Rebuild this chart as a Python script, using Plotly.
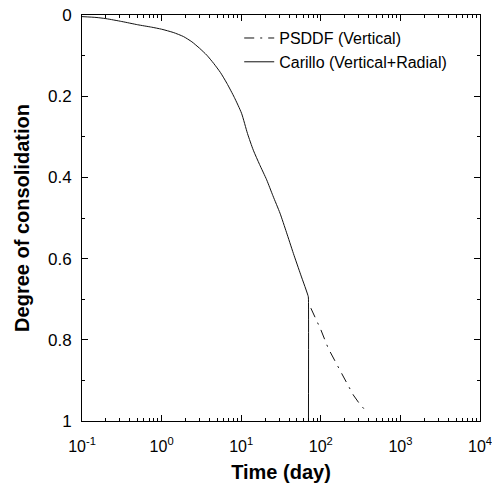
import plotly.graph_objects as go

# Carillo (Vertical+Radial) - solid
carillo_t = [0.1, 0.15, 0.2, 0.316, 0.5, 0.75, 1.0, 1.4, 1.88, 2.4, 3.0, 3.7, 4.5, 5.5, 6.6, 8.2, 10.1, 12.0, 14.2, 17.0, 20.9, 25.0, 30.7, 37.0, 45.2, 56.0, 69.7, 70.0, 70.0]
carillo_u = [0.004, 0.006, 0.009, 0.016, 0.024, 0.030, 0.035, 0.043, 0.053, 0.066, 0.082, 0.099, 0.119, 0.142, 0.168, 0.203, 0.242, 0.292, 0.333, 0.368, 0.406, 0.445, 0.488, 0.535, 0.587, 0.640, 0.694, 0.70, 1.0]

# PSDDF (Vertical) - dash-dot
psddf_t = [75, 100, 124, 150, 183, 220, 256, 300, 359]
psddf_u = [0.722, 0.775, 0.821, 0.853, 0.883, 0.912, 0.936, 0.955, 0.973]

x_tickvals = [0.1, 1, 10, 100, 1000, 10000]
x_ticktext = ["10<sup>-1</sup>", "10<sup>0</sup>", "10<sup>1</sup>", "10<sup>2</sup>", "10<sup>3</sup>", "10<sup>4</sup>"]
y_tickvals = [0, 0.2, 0.4, 0.6, 0.8, 1]
y_ticktext = ["0", "0.2", "0.4", "0.6", "0.8", "1"]

x_minor = [m * 10 ** e for e in range(-1, 4) for m in range(2, 10)]
y_minor = [0.1, 0.3, 0.5, 0.7, 0.9]

FONT = "Arial, Liberation Sans, sans-serif"

fig = go.Figure()
fig.add_trace(go.Scatter(x=psddf_t, y=psddf_u, mode="lines", name="PSDDF (Vertical)",
                         line=dict(color="#111111", width=1, dash="10px,6px,2px,6px")))
fig.add_trace(go.Scatter(x=carillo_t, y=carillo_u, mode="lines", name="Carillo (Vertical+Radial)",
                         line=dict(color="#111111", width=1, shape="spline", smoothing=0.6)))

fig.update_layout(
    width=492, height=486,
    margin=dict(l=82, r=12, t=15, b=65),
    paper_bgcolor="white", plot_bgcolor="white",
    font=dict(family=FONT, size=16, color="black"),
    showlegend=True,
    legend=dict(x=0.395, y=0.985, xanchor="left", yanchor="top",
                bgcolor="rgba(0,0,0,0)", borderwidth=0,
                font=dict(size=16, family=FONT), tracegroupgap=0),
    xaxis=dict(type="log", range=[-1, 4], tickvals=x_tickvals, ticktext=x_ticktext,
               ticks="inside", ticklen=6, tickcolor="black", showline=True, linecolor="black",
               linewidth=1, mirror="ticks", showgrid=False, zeroline=False,
               ticklabelstandoff=11, ticklabeloverflow="allow", automargin=False,
               minor=dict(ticks="inside", ticklen=3, tickcolor="black", tickvals=x_minor, showgrid=False),
               title=dict(text="<b>Time (day)</b>", font=dict(size=20, family=FONT), standoff=10),
               tickfont=dict(size=16, family=FONT)),
    yaxis=dict(range=[1, 0], tickvals=y_tickvals, ticktext=y_ticktext,
               ticks="inside", ticklen=6, tickcolor="black", showline=True, linecolor="black",
               linewidth=1, mirror="ticks", showgrid=False, zeroline=False,
               ticklabelstandoff=6, automargin=False,
               minor=dict(ticks="inside", ticklen=3, tickcolor="black", tickvals=y_minor, showgrid=False),
               title=dict(text="<b>Degree of consolidation</b>", font=dict(size=20, family=FONT), standoff=12),
               tickfont=dict(size=17, family=FONT)),
)

fig.write_html("out.html")
